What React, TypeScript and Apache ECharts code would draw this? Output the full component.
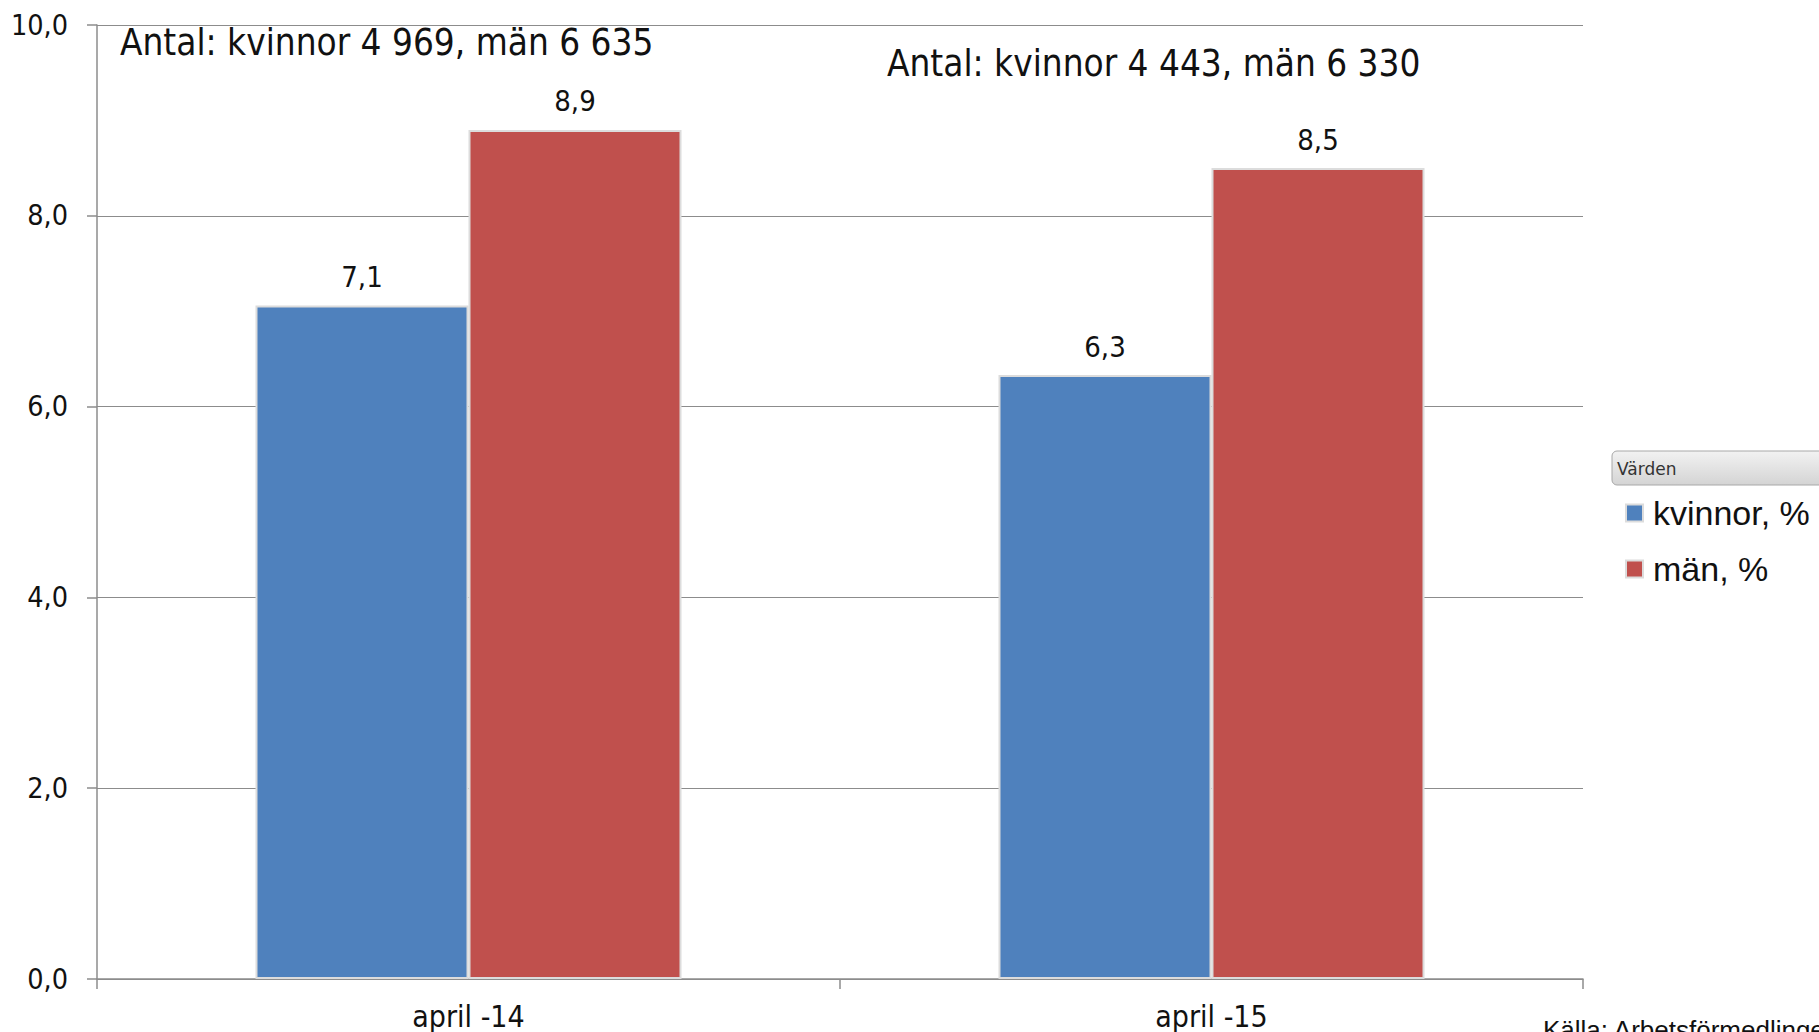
import React, { useEffect, useRef } from "react";
import * as echarts from "echarts";

const categories = ["april -14", "april -15"];
const kvinnor = [7.06, 6.33];
const man = [8.9, 8.5];
const seriesNames = ["kvinnor, %", "män, %"];
const yTicks = { min: 0, max: 10, interval: 2 };
const annotations = ["Antal: kvinnor 4 969, män 6 635", "Antal: kvinnor 4 443, män 6 330"];
const legendTitle = "Värden";
const source = "Källa: Arbetsförmedlingen";

const FONT = "'DejaVu Sans Condensed', 'DejaVu Sans', sans-serif";
const fmt = (v: number) => (Math.round(v * 10) / 10).toFixed(1).replace(".", ",");

export default function App() {
  const ref = useRef<HTMLDivElement>(null);
  useEffect(() => {
    document.body.style.margin = "0";
    const chart = echarts.init(ref.current!, null, { renderer: "svg" });
    const barStyle = (color: string) => ({ color, borderColor: "#dcdcdc", borderWidth: 2 });
    const label = {
      show: true,
      position: "top" as const,
      distance: 14,
      fontFamily: FONT,
      fontSize: 29,
      color: "#111",
      formatter: (p: any) => fmt(p.value),
    };
    chart.setOption({
      animation: false,
      backgroundColor: "#ffffff",
      grid: { left: 97, right: 236, top: 25, bottom: 53, containLabel: false },
      xAxis: {
        type: "category",
        data: categories,
        axisLine: { lineStyle: { color: "#8c8c8c", width: 1.5 } },
        axisTick: { show: true, length: 10, lineStyle: { color: "#8c8c8c", width: 1.5 } },
        axisLabel: { fontFamily: FONT, fontSize: 30, color: "#111", margin: 22 },
      },
      yAxis: {
        type: "value",
        min: yTicks.min,
        max: yTicks.max,
        interval: yTicks.interval,
        axisLine: { show: true, lineStyle: { color: "#8c8c8c", width: 1.5 } },
        axisTick: { show: true, length: 10, lineStyle: { color: "#8c8c8c", width: 1.5 } },
        axisLabel: { fontFamily: FONT, fontSize: 28.5, color: "#111", margin: 29, formatter: fmt },
        splitLine: { lineStyle: { color: "#8c8c8c", width: 1.2 } },
      },
      legend: {
        orient: "vertical",
        left: 1625,
        top: 493,
        padding: 0,
        itemWidth: 17,
        itemHeight: 17,
        itemGap: 16,
        icon: "rect",
        textStyle: { fontFamily: "'Liberation Sans', Arial, sans-serif", fontSize: 34, color: "#111", lineHeight: 40, padding: [0, 0, 0, 5] },
        data: seriesNames,
      },
      series: [
        { name: seriesNames[0], type: "bar", data: kvinnor, barWidth: 213, barGap: "0%", itemStyle: barStyle("#4F81BD"), label },
        { name: seriesNames[1], type: "bar", data: man, barWidth: 213, barGap: "0%", itemStyle: barStyle("#C0504D"), label },
      ],
      graphic: [
        { type: "text", x: 120, y: 42, style: { text: annotations[0], fontFamily: FONT, fontSize: 36.6, fill: "#111", textVerticalAlign: "middle" } },
        { type: "text", x: 887, y: 63, style: { text: annotations[1], fontFamily: FONT, fontSize: 36.6, fill: "#111", textVerticalAlign: "middle" } },
        {
          type: "rect",
          shape: { x: 1612, y: 451, width: 220, height: 34, r: 5 },
          style: {
            fill: new echarts.graphic.LinearGradient(0, 0, 0, 1, [
              { offset: 0, color: "#f2f2f2" },
              { offset: 1, color: "#d4d4d4" },
            ]),
            stroke: "#a8a8a8",
            lineWidth: 1,
          },
        },
        { type: "text", x: 1617, y: 469, style: { text: legendTitle, fontFamily: "'DejaVu Sans', sans-serif", fontSize: 17, fill: "#333", textVerticalAlign: "middle" } },
        { type: "text", x: 1543, y: 1030, style: { text: source, fontFamily: "'Liberation Sans', Arial, sans-serif", fontSize: 26, fill: "#111", textVerticalAlign: "middle" } },
      ],
    });
    return () => chart.dispose();
  }, []);
  return <div ref={ref} style={{ position: "absolute", left: 0, top: 0, width: 1819, height: 1032 }} />;
}
